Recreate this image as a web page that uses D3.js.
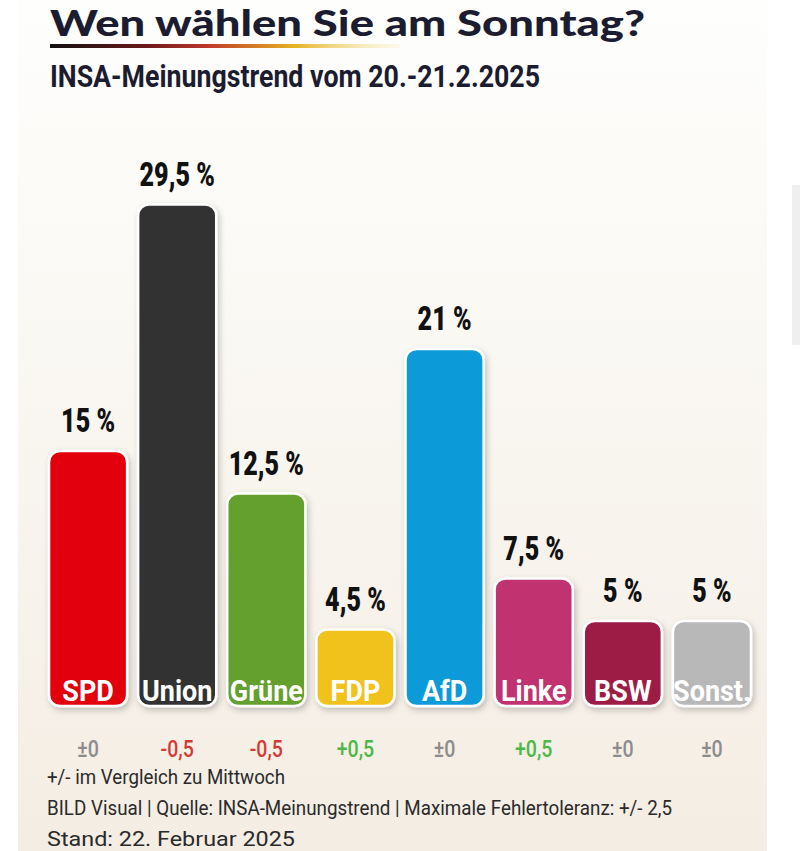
<!DOCTYPE html>
<html><head><meta charset="utf-8">
<script src="https://cdn.jsdelivr.net/npm/d3@7"></script>
<style>html,body{margin:0;padding:0;background:#fff;}svg{display:block;}</style>
</head><body>
<script>
const parties = ["SPD","Union","Grüne","FDP","AfD","Linke","BSW","Sonst."];
const values = [15, 29.5, 12.5, 4.5, 21, 7.5, 5, 5];
const valueLabels = ["15 %","29,5 %","12,5 %","4,5 %","21 %","7,5 %","5 %","5 %"];
const changes = ["±0","-0,5","-0,5","+0,5","±0","+0,5","±0","±0"];
const colors = ["#e3000f","#333333","#63a02f","#f2c21c","#0f9ad8","#c0316f","#9c1a45","#b8b8b8"];
const title = "Wen wählen Sie am Sonntag?";
const subtitle = "INSA-Meinungstrend vom 20.-21.2.2025";
const footnotes = ["+/- im Vergleich zu Mittwoch","BILD Visual | Quelle: INSA-Meinungstrend | Maximale Fehlertoleranz: +/- 2,5","Stand: 22. Februar 2025"];

const W = 800, H = 851;
const svg = d3.select("body").append("svg").attr("width", W).attr("height", H);
const defs = svg.append("defs");
const bg = defs.append("linearGradient").attr("id","bg").attr("x1",0).attr("y1",0).attr("x2",0).attr("y2",1);
bg.append("stop").attr("offset","0%").attr("stop-color","#fefefd");
bg.append("stop").attr("offset","40%").attr("stop-color","#faf8f3");
bg.append("stop").attr("offset","100%").attr("stop-color","#f4ede3");
const lg = defs.append("linearGradient").attr("id","line").attr("x1",0).attr("x2",1);
lg.append("stop").attr("offset","0%").attr("stop-color","#111");
lg.append("stop").attr("offset","28%").attr("stop-color","#6d1a1a");
lg.append("stop").attr("offset","45%").attr("stop-color","#c0392b");
lg.append("stop").attr("offset","70%").attr("stop-color","#e6b422");
lg.append("stop").attr("offset","100%").attr("stop-color","#f5e6a8").attr("stop-opacity",0.2);
const sh = defs.append("filter").attr("id","sh").attr("x","-20%").attr("y","-10%").attr("width","150%").attr("height","130%");
sh.append("feDropShadow").attr("dx",2).attr("dy",3).attr("stdDeviation",3).attr("flood-color","#000").attr("flood-opacity",0.22);

svg.append("rect").attr("x",0).attr("y",0).attr("width",W).attr("height",H).attr("fill","#ffffff");
svg.append("rect").attr("x",18).attr("y",0).attr("width",749).attr("height",H).attr("fill","url(#bg)");
svg.append("rect").attr("x",792).attr("y",185).attr("width",8).attr("height",160).attr("fill","#efefef");

const cond = "'Roboto','Liberation Sans',sans-serif";

svg.append("text").attr("x",50).attr("y",36).text(title)
  .attr("font-family","'Lato','Inter',sans-serif").attr("font-weight",900).attr("font-size",36)
  .attr("fill","#1c1c30").attr("textLength",595).attr("lengthAdjust","spacingAndGlyphs");
svg.append("rect").attr("x",50).attr("y",44).attr("width",350).attr("height",4).attr("fill","url(#line)");
svg.append("text").attr("x",50).attr("y",87).text(subtitle)
  .attr("font-family",cond).attr("font-weight",700).attr("font-size",31)
  .attr("fill","#1c1c30").attr("textLength",490).attr("lengthAdjust","spacingAndGlyphs");

const x = d3.scaleBand().domain(parties).range([43.5, 756.5]).paddingInner(0.1236).paddingOuter(0.0618);
const y = d3.scaleLinear().domain([0, 30]).range([706, 196]);

const data = parties.map((p,i)=>({p, v:values[i], lab:valueLabels[i], ch:changes[i], c:colors[i]}));

const g = svg.append("g");
g.selectAll("rect.bar").data(data).enter().append("rect").attr("class","bar")
  .attr("x", d=>x(d.p)).attr("y", d=>y(d.v))
  .attr("width", x.bandwidth()).attr("height", d=>y(0)-y(d.v))
  .attr("rx",11).attr("ry",11)
  .attr("fill", d=>d.c).attr("stroke","#ffffff").attr("stroke-width",2.5)
  .attr("filter","url(#sh)");

g.selectAll("text.name").data(data).enter().append("text").attr("class","name")
  .attr("transform", d=>`translate(${x(d.p)+x.bandwidth()/2},${y(0)-5}) scale(0.9,1)`)
  .attr("text-anchor","middle").attr("font-family",cond).attr("font-weight",700)
  .attr("font-size",30).attr("fill","#ffffff").text(d=>d.p);

g.selectAll("text.val").data(data).enter().append("text").attr("class","val")
  .attr("transform", d=>`translate(${x(d.p)+x.bandwidth()/2},${y(d.v)-19}) scale(0.76,1)`)
  .attr("text-anchor","middle").attr("font-family",cond).attr("font-weight",900)
  .attr("font-size",33).attr("fill","#111").text(d=>d.lab);

const chColor = s => s.startsWith("-") ? "#d43a34" : s.startsWith("+") ? "#4cb848" : "#8c8c8c";
g.selectAll("text.ch").data(data).enter().append("text").attr("class","ch")
  .attr("transform", d=>`translate(${x(d.p)+x.bandwidth()/2},757) scale(0.85,1)`)
  .attr("text-anchor","middle").attr("font-family",cond).attr("font-weight",500)
  .attr("font-size",23).attr("fill", d=>chColor(d.ch)).text(d=>d.ch);

const fy = [784, 815, 846];
const fw = [238, 625, 248];
svg.selectAll("text.foot").data(footnotes).enter().append("text").attr("class","foot")
  .attr("x",47).attr("y",(d,i)=>fy[i]).text(d=>d)
  .attr("font-family",cond).attr("font-weight",400).attr("font-size",21).attr("fill","#2a2a2a")
  .attr("textLength",(d,i)=>fw[i]).attr("lengthAdjust","spacingAndGlyphs");
</script>
</body></html>
